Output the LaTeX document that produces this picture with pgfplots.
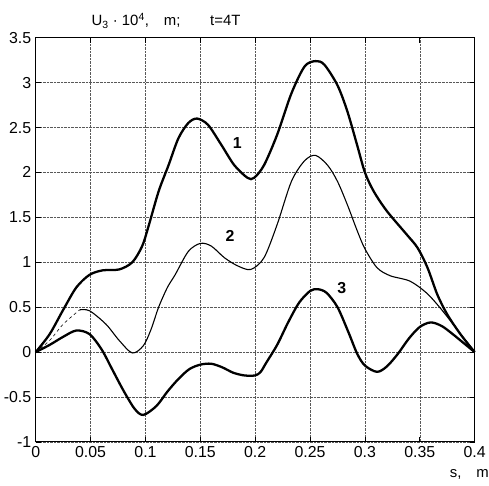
\documentclass[border=0pt]{standalone}
\usepackage{fontspec}
\setmainfont{Liberation Sans}
\usepackage{pgfplots}
\pgfplotsset{compat=1.18}

\begin{document}
\begin{tikzpicture}
  \begin{axis}[
      scale only axis,
      width=442pt, height=407pt,
      xmin=0, xmax=0.4, ymin=-1, ymax=3.5,
      xtick={0,0.05,0.1,0.15,0.2,0.25,0.3,0.35,0.4},
      xticklabels={0,0.05,0.1,0.15,0.2,0.25,0.3,0.35,0.4},
      ytick={-1,-0.5,0,0.5,1,1.5,2,2.5,3,3.5},
      yticklabels={-1,-0.5,0,0.5,1,1.5,2,2.5,3,3.5},
      tick label style={font=\fontsize{16}{18}\selectfont},
      xticklabel style={yshift=-1pt},
      yticklabel style={xshift=-1pt},
      grid=major,
      major grid style={densely dotted, black!65, line width=0.5pt},
      axis line style={line width=0.9pt},
      tick style={black, line width=0.6pt},
      major tick length=5pt,
      clip=false,
    ]
    % curve 1
    \addplot[black, line width=2.3pt, smooth] coordinates {
      (0,0) (0.0127,0.2) (0.025,0.47) (0.037,0.72) (0.049,0.86) (0.061,0.91)
      (0.076,0.92) (0.088,1.0) (0.097,1.18) (0.103,1.41) (0.112,1.79)
      (0.121,2.08) (0.130,2.38) (0.139,2.55) (0.147,2.6) (0.157,2.53)
      (0.169,2.31) (0.181,2.08) (0.193,1.94) (0.199,1.94) (0.208,2.08)
      (0.220,2.42) (0.233,2.88) (0.245,3.18) (0.255,3.24) (0.263,3.2)
      (0.275,2.97) (0.284,2.68) (0.293,2.3) (0.300,2.0) (0.308,1.79)
      (0.320,1.57) (0.338,1.31) (0.348,1.16) (0.357,0.94) (0.366,0.64)
      (0.375,0.42) (0.387,0.2) (0.4,0)
    };
    % curve 2 (dashed near the start, thin)
    \addplot[black, line width=0.6pt, dashed, smooth] coordinates {
      (0,0) (0.0127,0.13) (0.025,0.31) (0.040,0.47)
    };
    \addplot[black, line width=1.1pt, smooth] coordinates {
      (0.040,0.47) (0.049,0.46) (0.064,0.31) (0.076,0.13) (0.088,-0.01)
      (0.098,0.07) (0.105,0.25) (0.112,0.5) (0.120,0.72) (0.127,0.86)
      (0.139,1.12) (0.150,1.21) (0.160,1.18) (0.172,1.05) (0.184,0.96)
      (0.196,0.92) (0.208,1.05) (0.220,1.42) (0.233,1.9) (0.245,2.13)
      (0.255,2.19) (0.266,2.08) (0.275,1.9) (0.284,1.64) (0.293,1.35)
      (0.300,1.15) (0.311,0.94) (0.323,0.85) (0.341,0.79) (0.356,0.66)
      (0.368,0.5) (0.381,0.3) (0.393,0.11) (0.4,0)
    };
    % curve 3
    \addplot[black, line width=2.3pt, smooth] coordinates {
      (0,0) (0.0127,0.08) (0.025,0.17) (0.037,0.24) (0.049,0.2) (0.06,0.03)
      (0.07,-0.2) (0.08,-0.43) (0.09,-0.63) (0.098,-0.7) (0.11,-0.6)
      (0.12,-0.44) (0.13,-0.3) (0.14,-0.19) (0.15,-0.14) (0.16,-0.13)
      (0.17,-0.17) (0.18,-0.23) (0.19,-0.26) (0.2,-0.26) (0.205,-0.22)
      (0.21,-0.12) (0.22,0.08) (0.23,0.33) (0.24,0.55) (0.25,0.68)
      (0.257,0.7) (0.265,0.66) (0.275,0.5) (0.285,0.22) (0.293,-0.02)
      (0.3,-0.15) (0.311,-0.22) (0.32,-0.16) (0.33,-0.02) (0.34,0.15)
      (0.35,0.28) (0.36,0.33) (0.37,0.29) (0.38,0.2) (0.39,0.1) (0.4,0)
    };
    \node[font=\fontsize{16}{18}\selectfont\bfseries] at (axis cs:0.1837,2.33) {1};
    \node[font=\fontsize{16}{18}\selectfont\bfseries] at (axis cs:0.177,1.29) {2};
    \node[font=\fontsize{16}{18}\selectfont\bfseries] at (axis cs:0.279,0.71) {3};
    \node[anchor=base west, inner sep=0pt, font=\fontsize{15}{17}\selectfont]
      at ([yshift=12pt]rel axis cs:0.127,1) {U\textsubscript{3} · 10\textsuperscript{4},\quad m;\qquad t=4T};
    \node[anchor=base west, inner sep=0pt, font=\fontsize{15}{17}\selectfont]
      at ([yshift=-36pt]rel axis cs:0.943,0) {s,\quad m};
  \end{axis}
  \path[use as bounding box] (-36pt,-44pt) rectangle (453pt,445pt);
\end{tikzpicture}
\end{document}
